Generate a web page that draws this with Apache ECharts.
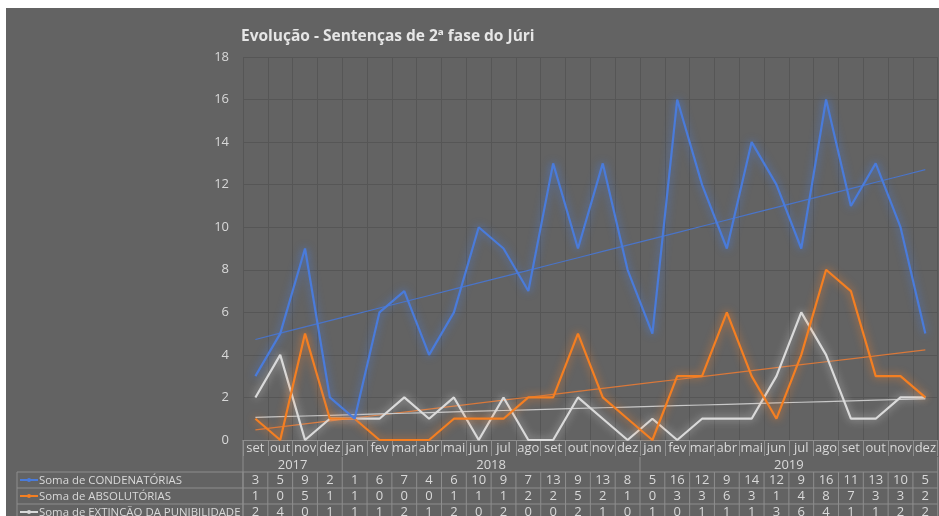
<!DOCTYPE html>
<html>
<head>
<meta charset="utf-8">
<script src="https://cdn.jsdelivr.net/npm/echarts@6/dist/echarts.min.js"></script>
<style>
html,body{margin:0;padding:0;background:#ffffff;}
#c{position:absolute;left:6px;top:8px;width:933px;height:508px;background:#636363;}
</style>
</head>
<body>
<div id="c"></div>
<script>
// ---- data ----
var months = ['set','out','nov','dez','jan','fev','mar','abr','mai','jun','jul','ago','set','out','nov','dez','jan','fev','mar','abr','mai','jun','jul','ago','set','out','nov','dez'];
var years = ['2017','2018','2019'];
var yearSpans = [4, 12, 12];
var seriesNames = ['Soma de CONDENATÓRIAS','Soma de ABSOLUTÓRIAS','Soma de EXTINÇÃO DA PUNIBILIDADE'];
var condenatorias = [3,5,9,2, 1,6,7,4,6,10,9,7,13,9,13,8, 5,16,12,9,14,12,9,16,11,13,10,5];
var absolutorias  = [1,0,5,1, 1,0,0,0,1,1,1,2,2,5,2,1, 0,3,3,6,3,1,4,8,7,3,3,2];
var extincao      = [2,4,0,1, 1,1,2,1,2,0,2,0,0,2,1,0, 1,0,1,1,1,3,6,4,1,1,2,2];
var yTicks = {min:0, max:18, interval:2};
var colors = ['#4A7BDA','#F47F22','#DADADA'];
var trendColors = ['#4A74C8','#D9783A','#C8C8C8'];
var glow = ['rgba(70,125,230,0.9)','rgba(250,130,40,0.9)','rgba(235,235,235,0.7)'];

(function(){
var yearOf = [];
years.forEach(function(y, k){ for (var i=0;i<yearSpans[k];i++) yearOf.push(y); });
var cats = months.map(function(m,i){ return yearOf[i] + '-' + m; });
var allData = [condenatorias, absolutorias, extincao];

function trend(vals){
  var n = vals.length, sx=0, sy=0, sxy=0, sxx=0;
  for (var i=0;i<n;i++){ sx+=i; sy+=vals[i]; sxy+=i*vals[i]; sxx+=i*i; }
  var b = (n*sxy - sx*sy)/(n*sxx - sx*sx), a = (sy - b*sx)/n;
  return vals.map(function(_,i){ return a + b*i; });
}

var textColor = '#D9D9D9';
var borderColor = '#8E8E8E';
var font = 'Open Sans';

var series = [];
allData.forEach(function(d, k){
  series.push({
    type:'line', name:seriesNames[k], data:d, showSymbol:false, silent:true,
    lineStyle:{color:colors[k], width:2.2, shadowBlur:9, shadowColor:glow[k]},
    itemStyle:{color:colors[k]}, z:3 + (2-k)
  });
});
allData.forEach(function(d, k){
  series.push({
    type:'line', name:'trend'+k, data:trend(d), showSymbol:false, silent:true,
    lineStyle:{color:trendColors[k], width:1.2}, z:2
  });
});

var chart = echarts.init(document.getElementById('c'));
chart.setOption({
  animation:false,
  backgroundColor:'transparent',
  title:{text:'Evolução - Sentenças de 2ª fase do Júri', left:230, top:16,
    textStyle:{color:'#E6E6E6', fontSize:15.5, fontWeight:'bold', fontFamily:font}},
  grid:{left:237, right:1, top:49, bottom:76},
  xAxis:{
    type:'category', data:cats, boundaryGap:true,
    axisLine:{show:true, lineStyle:{color:borderColor, width:1}},
    axisTick:{show:true, interval:0, length:16, lineStyle:{color:borderColor}},
    axisLabel:{interval:0, color:textColor, fontSize:13, fontFamily:font, margin:2,
      formatter:function(v){ return v.split('-')[1]; }},
    splitLine:{show:true, interval:0, lineStyle:{color:'#565656', width:1}}
  },
  yAxis:{
    type:'value', min:yTicks.min, max:yTicks.max, interval:yTicks.interval,
    axisLine:{show:false}, axisTick:{show:false},
    axisLabel:{color:textColor, fontSize:13, fontFamily:font, margin:14},
    splitLine:{lineStyle:{color:'#565656', width:1}}
  },
  series:series
});

// ---- data table (positions from the category axis) ----
var zr = chart.getZr();
var G = echarts.graphic;
var n = cats.length;
var px = function(i){ return chart.convertToPixel({xAxisIndex:0}, i); };
var cw = px(1) - px(0);
var x0 = px(0) - cw/2, x1 = px(n-1) + cw/2;
var rowMonthTop = 432, rowYearTop = 449, rowYearBot = 464, rowH = 16, H = 508;
var legendLeft = 11;
function addLine(xa,ya,xb,yb,color,w){
  zr.add(new G.Line({shape:{x1:xa,y1:ya,x2:xb,y2:yb}, style:{stroke:color||borderColor, lineWidth:w||1}, silent:true, z:10}));
}
function addText(t,x,y,align,size){
  zr.add(new G.Text({x:x, y:y, style:{text:t, fill:textColor, font:(size||13)+'px "'+font+'"', align:align||'center', verticalAlign:'middle'}, silent:true, z:10}));
}
var cum = 0;
addLine(x0, rowMonthTop, x0, H);
years.forEach(function(y,k){
  var a = x0 + cum*cw, b = x0 + (cum+yearSpans[k])*cw;
  addText(y, (a+b)/2, (rowYearTop+rowYearBot)/2 + 0.5);
  addLine(b, rowYearTop, b, rowYearBot);
  cum += yearSpans[k];
});
for (var r=0;r<3;r++){
  var rowTop = rowYearBot + r*rowH;
  addLine(legendLeft, rowTop, x1, rowTop);
  var cy = rowTop + rowH/2;
  for (var i=0;i<n;i++) addText(String(allData[r][i]), px(i), cy + 0.5);
  addLine(legendLeft, rowTop, legendLeft, rowTop+rowH);
  addLine(legendLeft+3, cy, legendLeft+21, cy, colors[r], 2);
  zr.add(new G.Circle({shape:{cx:legendLeft+12, cy:cy, r:2}, style:{fill:colors[r]}, silent:true, z:11}));
  addText(seriesNames[r], legendLeft+22, cy + 0.5, 'left', 11.4);
}
addLine(legendLeft, rowYearBot+3*rowH, x1, rowYearBot+3*rowH);
for (var j=0;j<=n;j++){
  var xx = x0 + j*cw;
  addLine(xx, rowYearBot, xx, H);
}
})();
</script>
</body>
</html>
